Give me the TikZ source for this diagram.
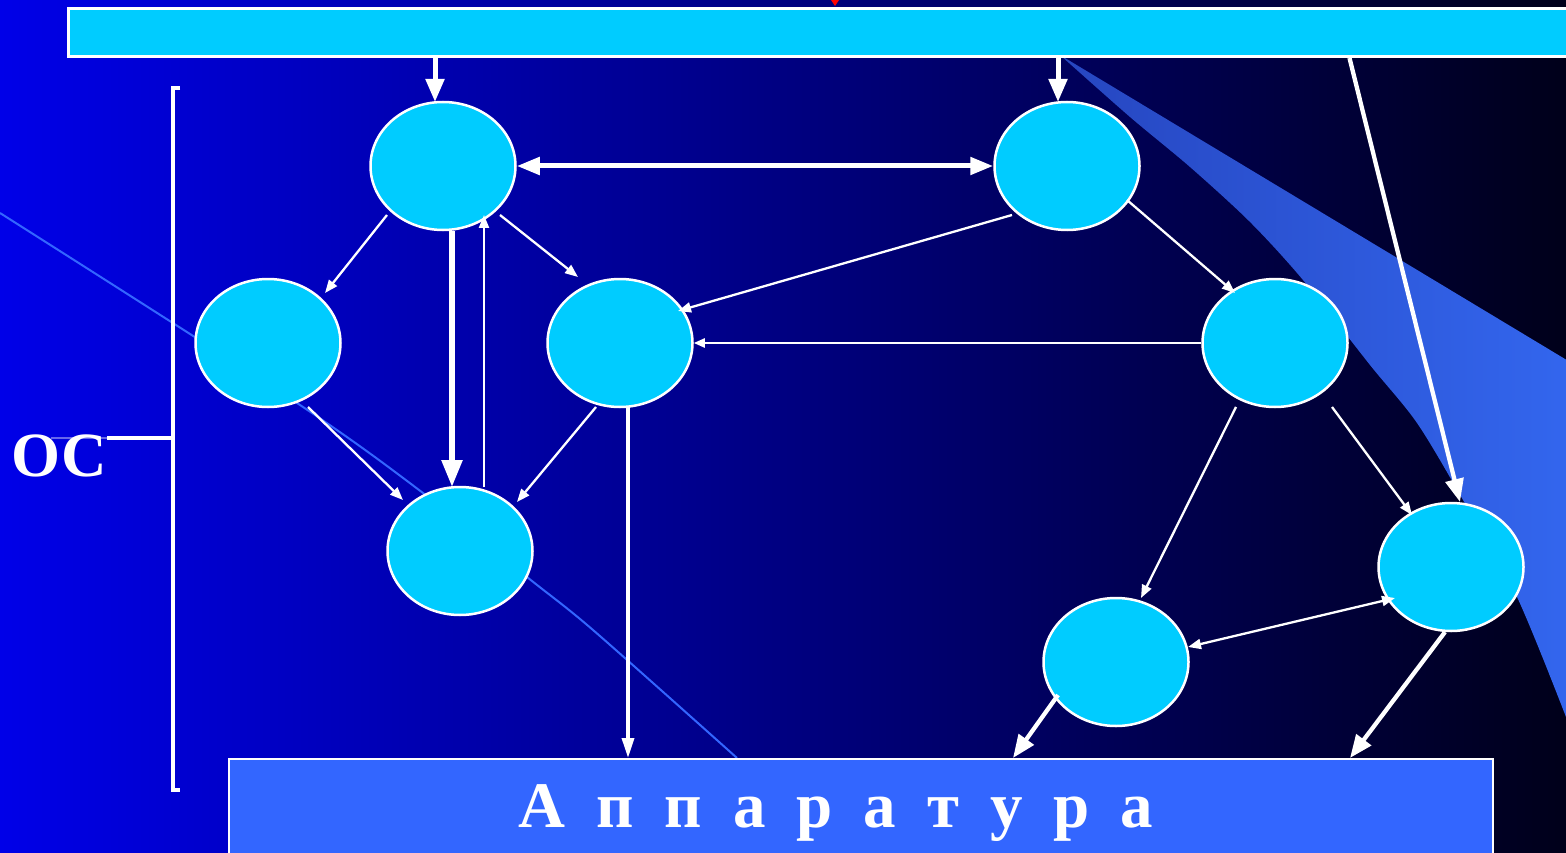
\documentclass[tikz,border=0pt]{standalone}
\usepackage{fontspec}
\setmainfont{Liberation Serif}
\usetikzlibrary{arrows.meta,shapes.geometric,calc}
\definecolor{cyanfill}{HTML}{00CCFF}
\definecolor{boxblue}{HTML}{3366FF}
\definecolor{bgleft}{RGB}{0,0,232}
\definecolor{bgright}{RGB}{0,0,26}
\definecolor{wedgeL}{HTML}{2646C0}
\definecolor{wedgeR}{HTML}{3366EE}
\definecolor{thinblue}{HTML}{3366FF}
\begin{document}
\begin{tikzpicture}[x=1pt,y=-1pt,
  blob/.style={ellipse,draw=white,line width=2.5pt,fill=cyanfill,minimum width=145pt,minimum height=128pt,inner sep=0pt},
  thinarr/.style={draw=white,line width=2.3pt,-{Triangle[length=13pt,width=10pt]}},
  thindbl/.style={draw=white,line width=2.3pt,{Triangle[length=13pt,width=10pt]}-{Triangle[length=13pt,width=10pt]}},
  medarr/.style={draw=white,line width=3.3pt,-{Triangle[length=20pt,width=12pt]}},
  thickarr/.style={draw=white,line width=5pt,-{Triangle[length=23pt,width=18pt]}},
  dblarr/.style={draw=white,line width=5pt,{Triangle[length=23pt,width=17pt]}-{Triangle[length=23pt,width=17pt]}},
  bigtext/.style={text=white,font=\fontsize{65}{70}\selectfont\bfseries,inner sep=0pt}
]
\useasboundingbox (0,0) rectangle (1566,853);
\shade[left color=bgleft,right color=bgright] (0,0) rectangle (1566,853);
% light wedge on the right
\shade[left color=wedgeL,right color=wedgeR] (1060,55) -- (1570,362) -- (1570,727)
  -- plot[smooth] coordinates {(1566,717) (1517,597) (1463,500) (1417,423) (1370,365) (1303,280) (1250,222) (1190,167) (1130,117) (1060,55)} -- cycle;
% thin blue curve
\draw[thinblue,line width=2pt] plot[smooth] coordinates {(0,213) (297,403) (423,493) (527,577) (593,630) (737,758)};
% red mark
\fill[red] (831,0) -- (839,0) -- (835,6) -- cycle;
% top bar
\node[draw=white,line width=3pt,fill=cyanfill,minimum width=1513pt,minimum height=48pt,inner sep=0pt,anchor=north west] (top) at (67,7) {};
% bottom box
\node[draw=white,line width=2pt,fill=boxblue,minimum width=1264pt,minimum height=130pt,inner sep=0pt,anchor=north west] (box) at (228,758) {};
\node[bigtext,anchor=base] (boxtext) at (836,827) {\spaceskip=31pt А п п а р а т у р а};
% bracket and label
\draw[white,line width=4pt] (180,88) -- (173,88) -- (173,790) -- (180,790);
\node[bigtext,font=\fontsize{63}{68}\selectfont\bfseries,anchor=base] (OC) at (59,476) {ОС};
\coordinate (brmid) at (171,438);
\draw[white,line width=3.5pt] (brmid) -- (OC.east |- brmid);
\draw[white,line width=2pt,opacity=0.4] (OC.east |- brmid) -- ($(OC.west |- brmid)+(40,0)$);
% ellipses
\node[blob] (E1) at (443,166) {};
\node[blob] (E2) at (1067,166) {};
\node[blob] (E3) at (268,343) {};
\node[blob] (E4) at (620,343) {};
\node[blob] (E5) at (1275,343) {};
\node[blob] (E6) at (460,551) {};
\node[blob] (E7) at (1451,567) {};
\node[blob] (E8) at (1116,662) {};
% connectors
\coordinate (t1) at ($(E1)+(-8,-64)$);
\draw[thickarr] (t1 |- top.south) -- (t1);
\coordinate (t2) at ($(E2)+(-9,-64)$);
\draw[thickarr] (t2 |- top.south) -- (t2);
\draw[thickarr,line width=4.3pt] ($(top.south)+(524.5,0)$) -- ($(E7)+(9,-65)$);
\draw[dblarr] (E1.east) -- (E2.west);
\draw[thinarr] ($(E1)+(-56,49)$) -- ($(E3)+(57,-50)$);
\draw[thinarr] ($(E1)+(57,49)$) -- ($(E4)+(-42,-66)$);
\draw[thickarr,line width=5.5pt,-{Triangle[length=27pt,width=20pt]}] ($(E1)+(9,65)$) -- ($(E6)+(-8,-64)$);
\draw[thinarr] ($(E6)+(24,-64)$) -- ($(E1)+(41,49)$);
\draw[thinarr] ($(E2)+(-55,49)$) -- ($(E4)+(58,-32)$);
\draw[thinarr] ($(E2)+(60,34)$) -- ($(E5)+(-40,-50)$);
\draw[thinarr,-{Triangle[length=11pt,width=9pt]}] (E5.west) -- (E4.east);
\draw[thinarr] ($(E3)+(40,64)$) -- ($(E6)+(-57,-51)$);
\draw[thinarr] ($(E4)+(-24,64)$) -- ($(E6)+(57,-49)$);
\coordinate (t14) at ($(E4)+(8,64)$);
\draw[medarr] (t14) -- (t14 |- box.north);
\draw[thinarr] ($(E5)+(-39,64)$) -- ($(E8)+(25,-64)$);
\draw[thinarr] ($(E5)+(57,64)$) -- ($(E7)+(-39,-52)$);
\draw[thindbl] ($(E8)+(72,-15)$) -- ($(E7)+(-56,31)$);
\coordinate (t18) at ($(E8)+(-103,96)$);
\draw[thickarr,line width=4.3pt] ($(E8)+(-58,33)$) -- (t18 |- box.north);
\coordinate (t19) at ($(E7)+(-101,191)$);
\draw[thickarr,line width=4.3pt] ($(E7)+(-6,65)$) -- (t19 |- box.north);
\end{tikzpicture}
\end{document}
